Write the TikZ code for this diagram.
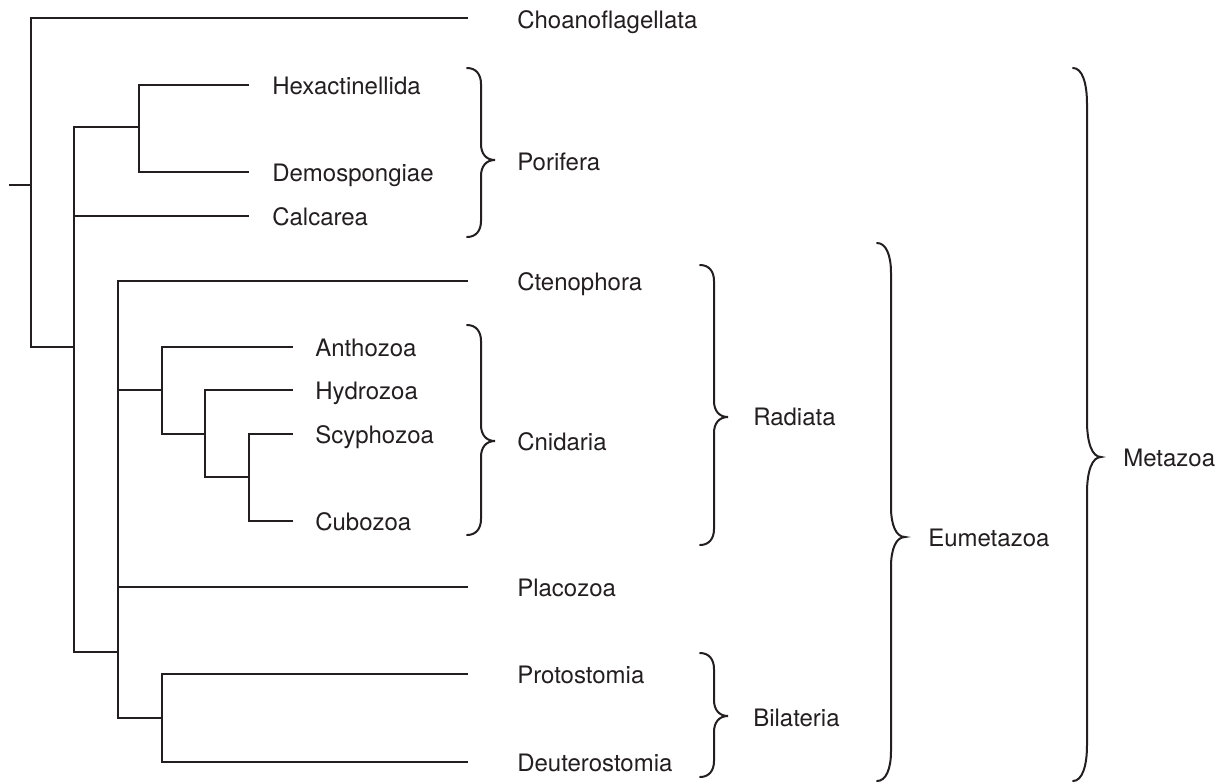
\documentclass[tikz,border=0pt]{standalone}
\usepackage{fontspec}
\setmainfont{TeX Gyre Heros}
\begin{document}
\begin{tikzpicture}[x=0.75pt,y=-0.75pt,
  branch/.style={line width=1.6pt,draw=ink,line join=miter},
  bracestyle/.style={line width=1.5pt,draw=ink,line cap=round},
  taxon/.style={anchor=base west,inner sep=0pt,text=ink,font=\fontsize{18}{20}\selectfont}]
\definecolor{ink}{HTML}{231F20}
% page frame
\fill[white] (0,0) rectangle (1225,783);
\useasboundingbox (0,0) rectangle (1225,783);

% curly brace: x0, top y, tip y, bottom y, curve length
\newcommand{\cladebrace}[5]{%
  \draw[bracestyle] (#1,#2) .. controls ({#1+9},#2) and ({#1+14},{#2+0.4*#5}) .. ({#1+14},{#2+#5})
    -- ({#1+14},{#3-#5}) .. controls ({#1+14},{#3-0.4*#5}) and ({#1+19},#3) .. ({#1+28},#3)
    .. controls ({#1+19},#3) and ({#1+14},{#3+0.4*#5}) .. ({#1+14},{#3+#5})
    -- ({#1+14},{#4-#5}) .. controls ({#1+14},{#4-0.4*#5}) and ({#1+9},#4) .. (#1,#4);}

% internal nodes of the tree
\coordinate (stub) at (9,185);
\coordinate (root) at (31,185);
\coordinate (metaz) at (74,347);
\coordinate (porin) at (139,127);
\coordinate (eumet) at (118,652);
\coordinate (cnid) at (162,390);
\coordinate (medus) at (205,434);
\coordinate (cubsc) at (249,477);
\coordinate (bilat) at (162,718);

% tips of the branches
\coordinate (choE) at (468,18);
\coordinate (hexE) at (249,85);
\coordinate (demE) at (249,172);
\coordinate (calE) at (249,216);
\coordinate (cteE) at (468,281);
\coordinate (antE) at (293,347);
\coordinate (hydE) at (293,390);
\coordinate (scyE) at (293,434);
\coordinate (cubE) at (293,521);
\coordinate (plaE) at (468,587);
\coordinate (proE) at (468,674);
\coordinate (deuE) at (468,762);

% taxon names
\node[taxon] (cho) at (517,28) {Choanoflagellata};
\node[taxon] (hex) at (272,94) {Hexactinellida};
\node[taxon] (dem) at (272,181) {Demospongiae};
\node[taxon] (cal) at (272,225) {Calcarea};
\node[taxon] (cte) at (517,290) {Ctenophora};
\node[taxon] (ant) at (315,356) {Anthozoa};
\node[taxon] (hyd) at (315,399) {Hydrozoa};
\node[taxon] (scy) at (315,443) {Scyphozoa};
\node[taxon] (cub) at (315,530) {Cubozoa};
\node[taxon] (pla) at (517,596) {Placozoa};
\node[taxon] (pro) at (517,683) {Protostomia};
\node[taxon] (deu) at (517,771) {Deuterostomia};

% branches
\draw[branch] (stub) -- (root);
\draw[branch] (root) |- (choE);
\draw[branch] (root) |- (metaz);
\draw[branch] (metaz) |- (porin);
\draw[branch] (metaz) |- (calE);
\draw[branch] (metaz) |- (eumet);
\draw[branch] (porin) |- (hexE);
\draw[branch] (porin) |- (demE);
\draw[branch] (eumet) |- (cteE);
\draw[branch] (eumet) |- (cnid);
\draw[branch] (eumet) |- (plaE);
\draw[branch] (eumet) |- (bilat);
\draw[branch] (cnid) |- (antE);
\draw[branch] (cnid) |- (medus);
\draw[branch] (medus) |- (hydE);
\draw[branch] (medus) |- (cubsc);
\draw[branch] (cubsc) |- (scyE);
\draw[branch] (cubsc) |- (cubE);
\draw[branch] (bilat) |- (proE);
\draw[branch] (bilat) |- (deuE);

% group braces and their names
\cladebrace{467}{68}{160}{237}{16}
\node[taxon] (porifera) at (517,170) {Porifera};
\cladebrace{467}{325}{441}{535}{16}
\node[taxon] (cnidaria) at (517,450) {Cnidaria};
\cladebrace{700}{265}{417}{545}{16}
\node[taxon] (radiata) at (753,425) {Radiata};
\cladebrace{700}{653}{716}{777}{16}
\node[taxon] (bilateria) at (753,726) {Bilateria};
\cladebrace{877}{243}{537}{781}{30}
\node[taxon] (eumetazoa) at (928,546) {Eumetazoa};
\cladebrace{1073}{68}{457}{781}{36}
\node[taxon] (metazoa) at (1123,466) {Metazoa};
\end{tikzpicture}
\end{document}
